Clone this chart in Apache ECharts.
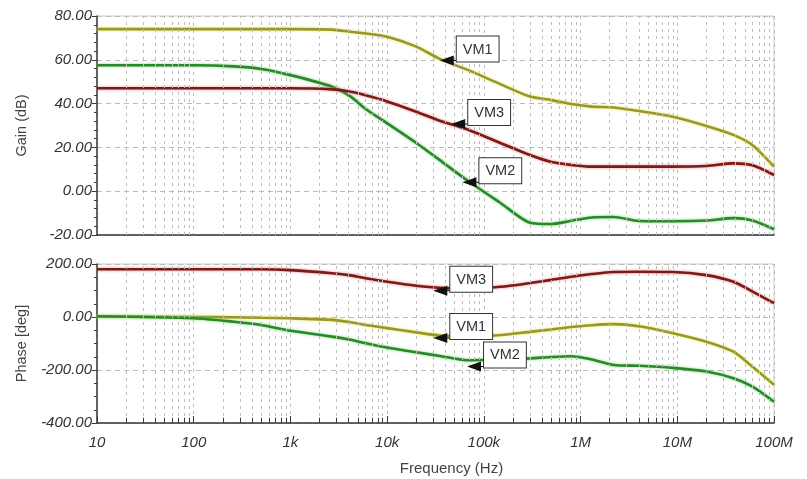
<!DOCTYPE html>
<html>
<head>
<meta charset="utf-8">
<title>Bode plot</title>
<script src="https://cdn.jsdelivr.net/npm/echarts@6/dist/echarts.min.js"></script>
<style>
  html, body { margin: 0; padding: 0; background: #ffffff; }
  #chart { width: 807px; height: 479px; }
</style>
</head>
<body>
<div id="chart"></div>
<script>
// Sweep frequencies (Hz) shared by every trace
const freqHz = [10, 100, 260, 500, 1e3, 2.7e3, 4.2e3, 6e3, 1e4, 2e4, 3.5e4, 6.7e4,
                1.5e5, 3e5, 5e5, 8e5, 1.3e6, 2.2e6, 4e6, 9e6, 2e7, 3.8e7, 6e7, 1e8];

// Gain (dB)
const gainVM1 = [74, 74, 74, 74, 74, 73.8, 72.8, 72, 70.5, 66, 60.4, 55.5,
                 48.8, 43.2, 41.6, 39.8, 38.6, 38.2, 36.6, 34, 29.8, 25.7, 21, 11.2];
const gainVM2 = [57.5, 57.5, 57, 55.8, 53, 47.7, 43.2, 37.5, 31, 22, 14.2, 5,
                 -5.5, -14.4, -15, -13.5, -12, -11.8, -13.6, -13.7, -13.4, -12.3, -13.4, -17.4];
const gainVM3 = [47, 47, 47, 47, 47, 46.5, 45.4, 43.8, 41, 36.3, 32.2, 28.3,
                 21.9, 16.5, 13.3, 12, 11.2, 11.2, 11.2, 11.2, 11.5, 12.7, 11.8, 7.4];

// Phase (deg)
const phaseVM1 = [2, 0, -1, -3, -5, -11, -20, -30, -42, -58, -70, -74,
                  -68, -56, -47, -38, -31, -27, -35, -61, -93, -131, -188, -256];
const phaseVM2 = [3, -5, -18, -30, -52, -74, -86, -99, -115, -133, -147, -163,
                  -160, -156, -151, -148, -160, -181, -184, -192, -206, -231, -263, -320];
const phaseVM3 = [180, 180, 180, 180, 177, 165, 157, 146, 133, 118, 110, 108,
                  114, 128, 140, 152, 162, 170, 171, 170, 158, 133, 96, 52];

// Trace names and colours
const traceNames = ['VM1', 'VM2', 'VM3'];
const traceColors = ['#97972a', '#2a882a', '#7c1a1a'];
const traceGlow = ['rgba(232,232,90,0.95)', 'rgba(120,215,120,0.9)', 'rgba(225,120,120,0.85)'];

// Axis ticks
const xTickLabels = ['10', '100', '1k', '10k', '100k', '1M', '10M', '100M'];
const gainRange = [-20, 80, 20];
const phaseRange = [-400, 200, 200];

// Callout tags: which trace, at what frequency/value
const gainTagNames = ['VM1', 'VM3', 'VM2'];
const gainTagFreq = [3.5e4, 4.6e4, 6.0e4];
const gainTagValue = [61, 32, 5.5];
const phaseTagNames = ['VM3', 'VM1', 'VM2'];
const phaseTagFreq = [3.0e4, 3.0e4, 6.7e4];
const phaseTagValue = [110, -68, -175];

const FONT = '"Liberation Sans", Arial, sans-serif';
const GRID_COLOR = '#bcbcbc';
const AXIS_COLOR = '#3a3a3a';

// 2..9 subdivisions of each decade
const minorFreqs = [];
for (let d = 10; d < 1e8; d *= 10) {
  for (let m = 2; m <= 9; m++) minorFreqs.push(d * m);
}

function pairs(values) {
  return freqHz.map((f, i) => [f, values[i]]);
}

// Arrow head with a short tail toward the tag box (tip on the left)
const ARROW_PATH = 'path://M0,5 L14,0 L14,10 Z M14,4.5 L18,4.5 L18,5.5 L14,5.5 Z';

function tags(names, freqs, values, trace) {
  const out = [];
  names.forEach((n, i) => {
    if (n === trace) out.push({ name: n, coord: [freqs[i], values[i]] });
  });
  return {
    silent: true,
    animation: false,
    symbol: ARROW_PATH,
    symbolSize: [18, 10],
    symbolOffset: [9, 3],
    itemStyle: { color: '#111' },
    label: {
      show: true,
      formatter: '{b}',
      position: [17, -19],
      color: '#333',
      fontFamily: FONT,
      fontSize: 14.5,
      lineHeight: 16,
      backgroundColor: '#ffffff',
      borderColor: '#333',
      borderWidth: 1,
      padding: [5, 6, 4, 6]
    },
    data: out
  };
}

function traceSeries(gridIdx, values, k, tagNames, tagFreq, tagValue) {
  return {
    name: traceNames[k],
    type: 'line',
    xAxisIndex: gridIdx,
    yAxisIndex: gridIdx,
    data: pairs(values),
    showSymbol: false,
    smooth: 0.25,
    z: 3,
    lineStyle: {
      color: traceColors[k],
      width: 2.6,
      shadowColor: traceGlow[k],
      shadowBlur: 3
    },
    animation: false,
    markPoint: tags(tagNames, tagFreq, tagValue, traceNames[k])
  };
}

function minorGridSeries(gridIdx, withTicks, yMin, tickLen) {
  const lines = minorFreqs.map(f => ({ xAxis: f }));
  const s = [{
    type: 'line', xAxisIndex: gridIdx, yAxisIndex: gridIdx, data: [], z: 1, silent: true,
    markLine: {
      silent: true, animation: false, symbol: 'none', label: { show: false },
      lineStyle: { color: GRID_COLOR, type: [3, 4], width: 1 },
      data: lines
    }
  }];
  if (withTicks) {
    s.push({
      type: 'line', xAxisIndex: gridIdx, yAxisIndex: gridIdx, data: [], z: 4, silent: true,
      markLine: {
        silent: true, animation: false, symbol: 'none', label: { show: false },
        lineStyle: { color: AXIS_COLOR, type: 'solid', width: 1 },
        data: minorFreqs.map(f => [{ coord: [f, yMin] }, { coord: [f, yMin + tickLen] }])
      }
    });
  }
  return s;
}

function xAxis(gridIdx, showLabels) {
  return {
    type: 'log',
    logBase: 10,
    gridIndex: gridIdx,
    min: 10,
    max: 1e8,
    splitNumber: 7,
    axisLine: { show: true, onZero: false, lineStyle: { color: AXIS_COLOR, width: 1.5 } },
    axisTick: { show: showLabels, inside: true, length: 7, lineStyle: { color: AXIS_COLOR } },
    axisLabel: {
      show: showLabels,
      fontFamily: FONT,
      fontSize: 15,
      fontStyle: 'italic',
      color: '#333',
      margin: 12,
      formatter: v => xTickLabels[Math.round(Math.log10(v)) - 1] || ''
    },
    splitLine: { show: true, lineStyle: { color: GRID_COLOR, type: [3, 4] } },
    name: showLabels ? 'Frequency (Hz)' : '',
    nameLocation: 'middle',
    nameGap: 38,
    nameTextStyle: { fontFamily: FONT, fontSize: 15, color: '#444', padding: [0, 0, 0, 32] }
  };
}

function yAxis(gridIdx, range, name, minorSplit) {
  return {
    type: 'value',
    gridIndex: gridIdx,
    min: range[0],
    max: range[1],
    interval: range[2],
    axisLine: { show: true, lineStyle: { color: AXIS_COLOR, width: 1.5 } },
    axisTick: { show: true, length: 5, lineStyle: { color: AXIS_COLOR } },
    minorTick: { show: true, splitNumber: minorSplit, length: 3, lineStyle: { color: AXIS_COLOR } },
    axisLabel: {
      fontFamily: FONT, fontSize: 15, fontStyle: 'italic', color: '#333', margin: 5,
      formatter: v => v.toFixed(2)
    },
    splitLine: { show: true, lineStyle: { color: GRID_COLOR, type: [5, 4] } },
    name: name,
    nameLocation: 'middle',
    nameRotate: 90,
    nameGap: 68,
    nameTextStyle: { fontFamily: FONT, fontSize: 14.5, color: '#444' }
  };
}

const chart = echarts.init(document.getElementById('chart'), null, { renderer: 'canvas' });

chart.setOption({
  backgroundColor: '#ffffff',
  animation: false,
  grid: [
    { left: 97, right: 33, top: 16, height: 219, show: true, borderColor: '#cccccc', borderWidth: 1 },
    { left: 97, right: 33, top: 264, height: 159, show: true, borderColor: '#cccccc', borderWidth: 1 }
  ],
  xAxis: [xAxis(0, false), xAxis(1, true)],
  yAxis: [
    yAxis(0, gainRange, 'Gain (dB)', 5),
    yAxis(1, phaseRange, 'Phase [deg]', 4)
  ],
  series: [
    ...minorGridSeries(0, false),
    ...minorGridSeries(1, true, phaseRange[0], 20),
    traceSeries(0, gainVM1, 0, gainTagNames, gainTagFreq, gainTagValue),
    traceSeries(0, gainVM2, 1, gainTagNames, gainTagFreq, gainTagValue),
    traceSeries(0, gainVM3, 2, gainTagNames, gainTagFreq, gainTagValue),
    traceSeries(1, phaseVM1, 0, phaseTagNames, phaseTagFreq, phaseTagValue),
    traceSeries(1, phaseVM2, 1, phaseTagNames, phaseTagFreq, phaseTagValue),
    traceSeries(1, phaseVM3, 2, phaseTagNames, phaseTagFreq, phaseTagValue)
  ]
});
</script>
</body>
</html>
